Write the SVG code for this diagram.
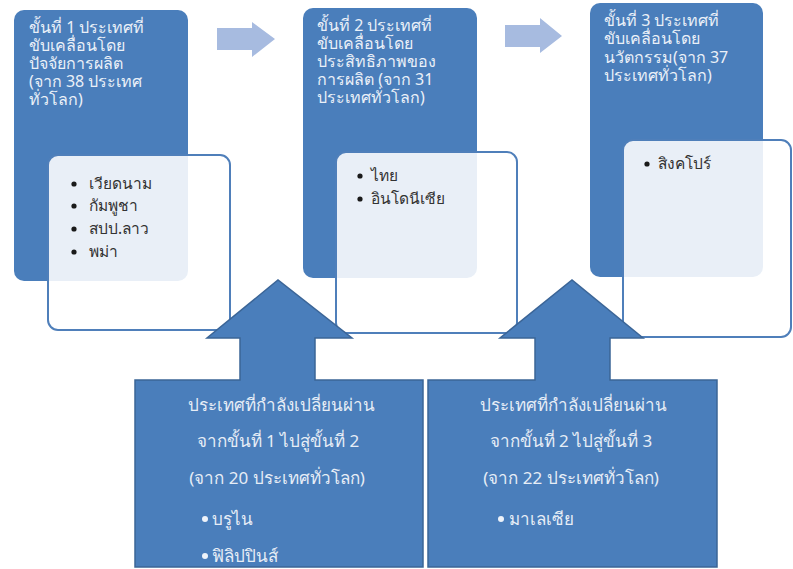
<svg xmlns="http://www.w3.org/2000/svg" width="793" height="569" viewBox="0 0 793 569">
<style>
.stage{fill:#4a7ebb}
.list{fill:#ffffff;fill-opacity:0.88;stroke:#4f7fba;stroke-width:2}
.conn{fill:#a7bbe0}
.callout{fill:#4a7ebb;stroke:#3b6597;stroke-width:1.5}
.t{font-family:"Noto Sans","DejaVu Sans",sans-serif;font-size:16px;fill:#eaf0f8}
.l{font-family:"Noto Sans","DejaVu Sans",sans-serif;font-size:15.5px;fill:#333333}
.c{font-family:"Noto Sans","DejaVu Sans",sans-serif;font-size:17px;fill:#e6edf6;text-anchor:middle}
.cb{font-family:"Noto Sans","DejaVu Sans",sans-serif;font-size:17px;fill:#e6edf6}
.bd{fill:#1a1a1a}
.bw{fill:#eef3fa}
</style>
<rect width="793" height="569" fill="#ffffff"/>
<g id="stage1">
<rect class="stage" x="14" y="10" width="174" height="271" rx="10"/>
<text class="t"><tspan x="29" y="33">ขั้นที่ 1 ประเทศที่</tspan><tspan x="29" y="51">ขับเคลื่อนโดย</tspan><tspan x="29" y="69">ปัจจัยการผลิต</tspan><tspan x="29" y="87">(จาก 38 ประเทศ</tspan><tspan x="29" y="105">ทั่วโลก)</tspan></text>
</g>
<g id="list1">
<rect class="list" x="48" y="155" width="182" height="175" rx="10"/>
<circle class="bd" cx="74" cy="184" r="2.6"/><circle class="bd" cx="74" cy="206" r="2.6"/><circle class="bd" cx="74" cy="229" r="2.6"/><circle class="bd" cx="74" cy="252" r="2.6"/>
<text class="l"><tspan x="89" y="189">เวียดนาม</tspan><tspan x="89" y="211">กัมพูชา</tspan><tspan x="89" y="234">สปป.ลาว</tspan><tspan x="89" y="257">พม่า</tspan></text>
</g>
<g id="stage2">
<rect class="stage" x="303" y="8" width="174" height="270" rx="10"/>
<text class="t"><tspan x="317" y="31">ขั้นที่ 2 ประเทศที่</tspan><tspan x="317" y="49">ขับเคลื่อนโดย</tspan><tspan x="317" y="67">ประสิทธิภาพของ</tspan><tspan x="317" y="85">การผลิต (จาก 31</tspan><tspan x="317" y="103">ประเทศทั่วโลก)</tspan></text>
</g>
<g id="list2">
<rect class="list" x="336" y="152" width="181" height="181" rx="10"/>
<circle class="bd" cx="360" cy="176" r="2.6"/><circle class="bd" cx="360" cy="199" r="2.6"/>
<text class="l"><tspan x="371" y="181">ไทย</tspan><tspan x="371" y="204">อินโดนีเซีย</tspan></text>
</g>
<g id="stage3">
<rect class="stage" x="590" y="3" width="173" height="274" rx="10"/>
<text class="t"><tspan x="604" y="26">ขั้นที่ 3 ประเทศที่</tspan><tspan x="604" y="44">ขับเคลื่อนโดย</tspan><tspan x="604" y="63">นวัตกรรม(จาก 37</tspan><tspan x="604" y="81">ประเทศทั่วโลก)</tspan></text>
</g>
<g id="list3">
<rect class="list" x="623" y="140" width="168" height="197" rx="10"/>
<circle class="bd" cx="647" cy="164" r="2.6"/>
<text class="l"><tspan x="658" y="169">สิงคโปร์</tspan></text>
</g>
<g id="connectors">
<polygon class="conn" points="217,28 252,28 252,22 275,39 252,57 252,50 217,50"/>
<polygon class="conn" points="505,25 540,25 540,18 562,36 540,53 540,47 505,47"/>
</g>
<g id="transition1">
<path class="callout" d="M135,380 L240,380 L240,338 L207,338 L278,280 L352,338 L315,338 L315,380 L423,380 L423,567 L135,567 Z"/>
<text class="c"><tspan x="281" y="411">ประเทศที่กำลังเปลี่ยนผ่าน</tspan><tspan x="278" y="447">จากขั้นที่ 1 ไปสู่ขั้นที่ 2</tspan><tspan x="277" y="484">(จาก 20 ประเทศทั่วโลก)</tspan></text>
<circle class="bw" cx="205" cy="519" r="3"/><circle class="bw" cx="205" cy="556" r="3"/>
<text class="cb"><tspan x="212" y="525">บรูไน</tspan><tspan x="212" y="562">ฟิลิปปินส์</tspan></text>
</g>
<g id="transition2">
<path class="callout" d="M428,380 L535,380 L535,338 L500,338 L572,280 L643,338 L610,338 L610,380 L717,380 L717,567 L428,567 Z"/>
<text class="c"><tspan x="573" y="411">ประเทศที่กำลังเปลี่ยนผ่าน</tspan><tspan x="571" y="447">จากขั้นที่ 2 ไปสู่ขั้นที่ 3</tspan><tspan x="571" y="484">(จาก 22 ประเทศทั่วโลก)</tspan></text>
<circle class="bw" cx="501" cy="519" r="3"/>
<text class="cb"><tspan x="509" y="525">มาเลเซีย</tspan></text>
</g>
</svg>
